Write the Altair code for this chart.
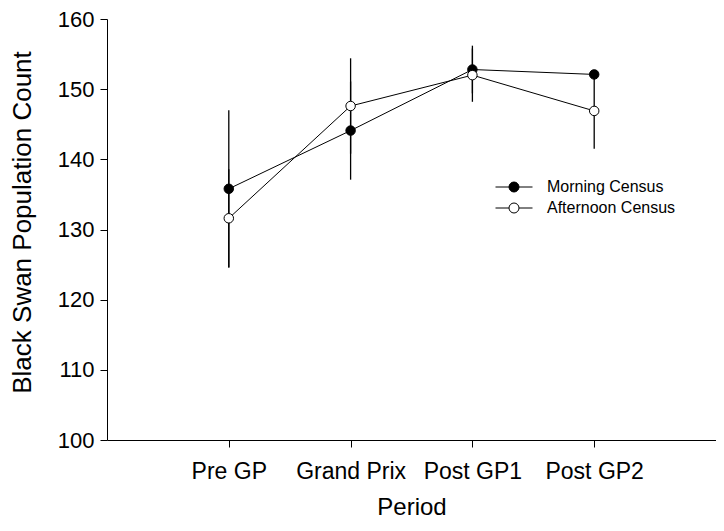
import altair as alt
import pandas as pd

periods = ["Pre GP", "Grand Prix", "Post GP1", "Post GP2"]
series_names = ["Morning Census", "Afternoon Census"]
morning_mean = [135.8, 144.1, 152.8, 152.1]
morning_err = [11.2, 7.0, 3.4, 0.5]
afternoon_mean = [131.6, 147.6, 152.0, 146.9]
afternoon_err = [7.0, 6.8, 3.8, 5.4]

rows = []
for name, means, errs in [(series_names[0], morning_mean, morning_err),
                          (series_names[1], afternoon_mean, afternoon_err)]:
    for p, m, e in zip(periods, means, errs):
        rows.append({"period": p, "series": name, "mean": m, "lo": m - e, "hi": m + e})
df = pd.DataFrame(rows)

FONT = "Liberation Sans"

x_enc = alt.X("period:N", sort=periods, scale=alt.Scale(type="point", padding=1),
              axis=alt.Axis(title="Period", labelAngle=0, labelFontSize=23, titleFontSize=24,
                            labelFont=FONT, titleFont=FONT, labelColor="black", titleColor="black",
                            titleFontWeight="normal", domainColor="black", tickColor="black",
                            tickSize=7, labelPadding=13, titleY=67, titleBaseline="middle",
                            grid=False))
y_scale = alt.Scale(domain=[100, 160], nice=False, zero=False)
y_axis = alt.Axis(title="Black Swan Population Count", values=[100, 110, 120, 130, 140, 150, 160],
                  labelFontSize=22, titleFontSize=26, labelFont=FONT, titleFont=FONT,
                  labelColor="black", titleColor="black", titleFontWeight="normal",
                  domainColor="black", tickColor="black", tickSize=7, labelPadding=6,
                  titleX=-85, titleY=203, titleBaseline="middle", grid=False)

base = alt.Chart(df)

lines = base.mark_line(color="black", strokeWidth=1).encode(
    x=x_enc, y=alt.Y("mean:Q", scale=y_scale, axis=y_axis), detail="series:N")

bars = base.mark_rule(color="black", strokeWidth=1.3).encode(
    x=x_enc, y=alt.Y("lo:Q", scale=y_scale), y2="hi:Q")

legend_path = "M-3.7,0L-1,0M1,0L3.7,0M-1,0A1,1,0,1,1,1,0A1,1,0,1,1,-1,0Z"

points = base.mark_point(filled=True, stroke="black", strokeWidth=1, size=90, opacity=1,
                         shape="circle").encode(
    x=x_enc, y=alt.Y("mean:Q", scale=y_scale),
    fill=alt.Fill("series:N", sort=series_names,
                  scale=alt.Scale(domain=series_names, range=["black", "white"]),
                  legend=alt.Legend(title=None, orient="none", legendX=399, legendY=160,
                                    symbolType=legend_path, symbolSize=100,
                                    symbolStrokeColor="black", symbolStrokeWidth=1,
                                    symbolOpacity=1,
                                    labelFont=FONT, labelFontSize=16, labelColor="black",
                                    labelOffset=25, rowPadding=5)))

chart = alt.layer(lines, bars, points).properties(
    width=609, height=421,
    autosize=alt.AutoSizeParams(type="none"),
    padding={"left": 99, "top": 11, "right": 0, "bottom": 83},
).configure_view(stroke=None)

chart.save("out.html", embed_options={"renderer": "svg", "actions": False})
